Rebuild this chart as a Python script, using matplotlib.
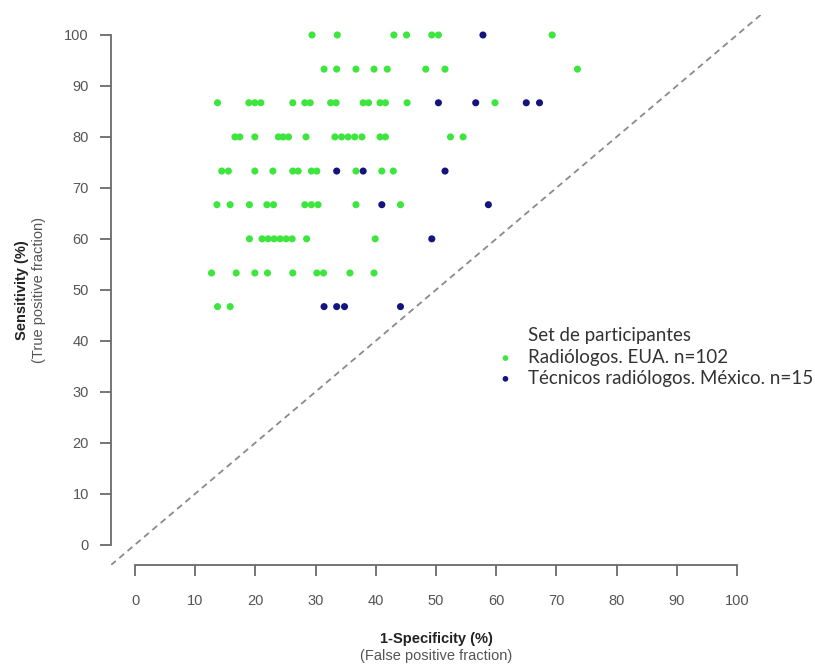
import matplotlib
matplotlib.use("Agg")
import matplotlib.pyplot as plt

# Sensitivity levels (n/15) and 1-specificity values
sens_levels = [100.0, 93.3, 86.7, 80.0, 73.3, 66.7, 60.0, 53.3, 46.7]

radiologos_fpf = {
    100.0: [29.4, 33.6, 43.0, 45.1, 49.3, 50.4, 69.3],
    93.3: [31.4, 33.5, 36.7, 39.7, 41.9, 48.3, 51.5, 73.5],
    86.7: [13.7, 18.9, 19.9, 20.9, 26.2, 28.2, 29.1, 32.5, 33.4, 37.9, 38.8,
           40.7, 41.6, 45.2, 59.8],
    80.0: [16.6, 17.4, 19.9, 23.8, 24.6, 25.5, 28.4, 33.2, 34.3, 35.4, 36.5,
           37.7, 40.7, 41.6, 52.4, 54.5],
    73.3: [14.4, 15.5, 19.9, 22.9, 26.2, 27.1, 29.3, 30.2, 36.7, 41.0, 42.9],
    66.7: [13.6, 15.8, 19.0, 21.9, 23.0, 28.2, 29.3, 30.4, 36.7, 44.1],
    60.0: [19.0, 21.1, 22.1, 23.1, 24.1, 25.1, 26.1, 28.5, 39.9],
    53.3: [12.7, 16.8, 19.9, 22.0, 26.2, 30.2, 31.3, 35.7, 39.7],
    46.7: [13.7, 15.8],
}
tecnicos_fpf = {
    100.0: [57.8],
    86.7: [50.4, 56.6, 65.0, 67.2],
    73.3: [33.5, 37.9, 51.5],
    66.7: [41.0, 58.7],
    60.0: [49.3],
    46.7: [31.4, 33.5, 34.8, 44.1],
}

series_labels = ["Radiólogos. EUA. n=102", "Técnicos radiólogos. México. n=15"]
legend_title = "Set de participantes"
ticks = [0, 10, 20, 30, 40, 50, 60, 70, 80, 90, 100]

green = "#3ce63c"
navy = "#14147e"
grey = "#555555"

def flatten(d):
    xs, ys = [], []
    for s in sens_levels:
        for v in d.get(s, []):
            xs.append(v)
            ys.append(s)
    return xs, ys

fig = plt.figure(figsize=(8.15, 6.69), dpi=100)
ax = fig.add_axes([111 / 815, 1 - 565 / 669, 650 / 815, 550.4 / 669])
ax.set_xlim(-4, 104)
ax.set_ylim(-4, 104)

# diagonal reference line
ax.plot([-4, 104], [-4, 104], ls=(0, (3.5, 2.5)), color="#8a8a8a", lw=1.3,
        zorder=1)

gx, gy = flatten(radiologos_fpf)
bx, by = flatten(tecnicos_fpf)
ax.scatter(gx, gy, s=26, color=green, edgecolors="none", label=series_labels[0],
           zorder=3)
ax.scatter(bx, by, s=26, color=navy, edgecolors="none", label=series_labels[1],
           zorder=4)

for side in ["top", "right"]:
    ax.spines[side].set_visible(False)
for side in ["bottom", "left"]:
    ax.spines[side].set_bounds(0, 100)
    ax.spines[side].set_color("#6a6a6a")
    ax.spines[side].set_linewidth(1.3)

ax.set_xticks(ticks)
ax.set_yticks(ticks)
ax.set_xticklabels([str(t) for t in ticks], fontfamily="Liberation Sans")
ax.set_yticklabels([str(t) for t in ticks], fontfamily="Liberation Sans")
ax.tick_params(axis="both", length=8, width=1.3, color="#6a6a6a",
               labelcolor=grey, labelsize=10.5)
ax.tick_params(axis="x", pad=13)
ax.tick_params(axis="y", pad=8)

# axis titles
fig.text(436 / 815, 1 - 639 / 669, "1-Specificity (%)", ha="center",
         va="center", fontsize=10.5, fontweight="bold", color="#222222",
         fontfamily="Liberation Sans")
fig.text(436 / 815, 1 - 656 / 669, "(False positive fraction)", ha="center",
         va="center", fontsize=10.5, color=grey, fontfamily="Liberation Sans")
fig.text(22 / 815, 1 - 290 / 669, "Sensitivity (%)", ha="center",
         va="center", rotation=90, fontsize=10.5, fontweight="bold",
         color="#222222", fontfamily="Liberation Sans")
fig.text(39 / 815, 1 - 290 / 669, "(True positive fraction)", ha="center",
         va="center", rotation=90, fontsize=10.5, color=grey,
         fontfamily="Liberation Sans")

# legend: title aligned with entry text
fig.text(528 / 815, 1 - 335 / 669, legend_title, ha="left", va="center",
         fontsize=13.5, color="#333333", fontfamily="Lato")
leg = ax.legend(loc="upper left",
                bbox_to_anchor=(497 / 815, 1 - 349 / 669),
                bbox_transform=fig.transFigure, frameon=False,
                prop={"family": "Lato", "size": 13.5},
                handletextpad=0.78, handlelength=0.9, borderpad=0,
                borderaxespad=0, labelspacing=0.2, markerscale=0.8)
for t in leg.get_texts():
    t.set_color("#333333")

fig.savefig("out.png", dpi=100, facecolor="white")
